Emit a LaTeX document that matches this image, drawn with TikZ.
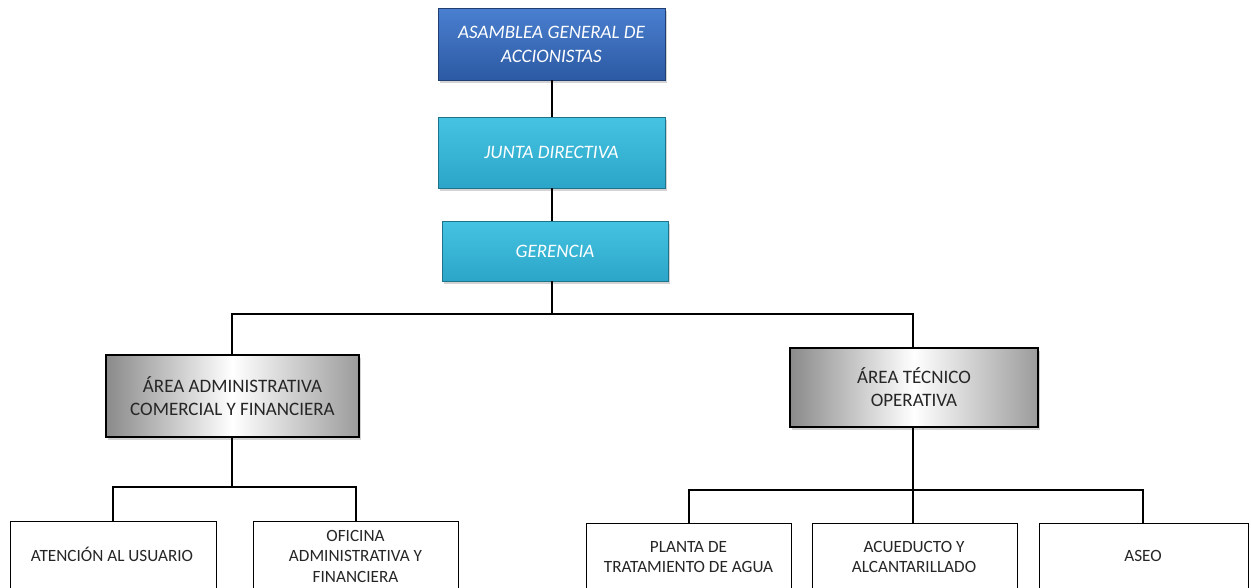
\documentclass[tikz,border=0pt]{standalone}
\usepackage{fontspec}
\setmainfont{Carlito}
\usetikzlibrary{shadows}
\definecolor{bluetop}{HTML}{4A7FD0}
\definecolor{bluebot}{HTML}{2C5AA3}
\definecolor{cyantop}{HTML}{45C3E2}
\definecolor{cyanbot}{HTML}{2BA5C8}
\definecolor{edgegray}{HTML}{8A8A8A}
\tikzset{
  topbox/.style={draw=#1bot!70!black, line width=0.6pt, top color=#1top, bottom color=#1bot,
    text=white, font=\fontsize{19}{24}\selectfont\itshape, align=center, inner sep=0pt,
    drop shadow={shadow xshift=2pt, shadow yshift=-3pt, opacity=0.35}},
  areabox/.style={draw=black, line width=1.6pt, left color=edgegray, right color=edgegray!85, middle color=white,
    font=\fontsize{19}{23}\selectfont, align=center, text=black!85, inner sep=0pt,
    drop shadow={shadow xshift=2pt, shadow yshift=-3pt, opacity=0.35}},
  leafbox/.style={draw=black, line width=1.4pt, fill=white, inner sep=0pt,
    minimum height=68pt, anchor=north west},
  leaftext/.style={font=\fontsize{17.2}{20.5}\selectfont, align=center, text=black!85},
  conn/.style={draw=black, line width=1.3pt}
}
\begin{document}
\begin{tikzpicture}[x=1pt,y=-1pt]
\path[use as bounding box] (0,0) rectangle (1251,587);
\clip (0,0) rectangle (1251,587);
% top chain
\node[topbox=blue, minimum width=227pt, minimum height=72pt] (asamblea) at (551.5,44) {ASAMBLEA GENERAL DE\\ACCIONISTAS};
\node[topbox=cyan, minimum width=227pt, minimum height=71pt] (junta) at (551.5,152.5) {JUNTA DIRECTIVA};
\node[topbox=cyan, minimum width=226pt, minimum height=60pt] (gerencia) at (555,251) {GERENCIA};
\draw[conn] (asamblea.south -| 552,0) -- (junta.north -| 552,0);
\draw[conn] (junta.south -| 552,0) -- (gerencia.north -| 552,0);
% areas
\node[areabox, minimum width=253pt, minimum height=82pt] (admin) at (232.5,396) {ÁREA ADMINISTRATIVA\\COMERCIAL Y FINANCIERA};
\node[areabox, minimum width=248pt, minimum height=79pt] (tecnico) at (914,387.5) {ÁREA TÉCNICO\\OPERATIVA};
\coordinate (gsplit) at (552,314);
\draw[conn] (gerencia.south -| 552,0) -- (gsplit);
\draw[conn] (gsplit) -| (admin.north -| 232,0);
\draw[conn] (gsplit) -| (tecnico.north -| 913,0);
% leaves
\node[leafbox, minimum width=206pt] (atencion) at (10,521) {};
\node[leaftext] at (112,554) {ATENCIÓN AL USUARIO};
\node[leafbox, minimum width=205pt] (oficina) at (253,521) {};
\node[leaftext] at (355.5,556) {OFICINA\\ADMINISTRATIVA Y\\FINANCIERA};
\node[leafbox, minimum width=205pt] (planta) at (586,523) {};
\node[leaftext] at (688.5,557) {PLANTA DE\\TRATAMIENTO DE AGUA};
\node[leafbox, minimum width=205pt] (acueducto) at (812,523) {};
\node[leaftext] at (914,557) {ACUEDUCTO Y\\ALCANTARILLADO};
\node[leafbox, minimum width=209pt] (aseo) at (1039,523) {};
\node[leaftext] at (1143,556) {ASEO};
\coordinate (asplit) at (232,487);
\coordinate (tsplit) at (913,490);
\draw[conn] (admin.south -| 232,0) -- (asplit);
\draw[conn] (asplit) -| (atencion.north -| 113,0);
\draw[conn] (asplit) -| (oficina.north -| 356,0);
\draw[conn] (tecnico.south -| 913,0) -- (acueducto.north -| 913,0);
\draw[conn] (tsplit) -| (planta.north -| 689,0);
\draw[conn] (tsplit) -| (aseo.north -| 1143,0);
\end{tikzpicture}
\end{document}
